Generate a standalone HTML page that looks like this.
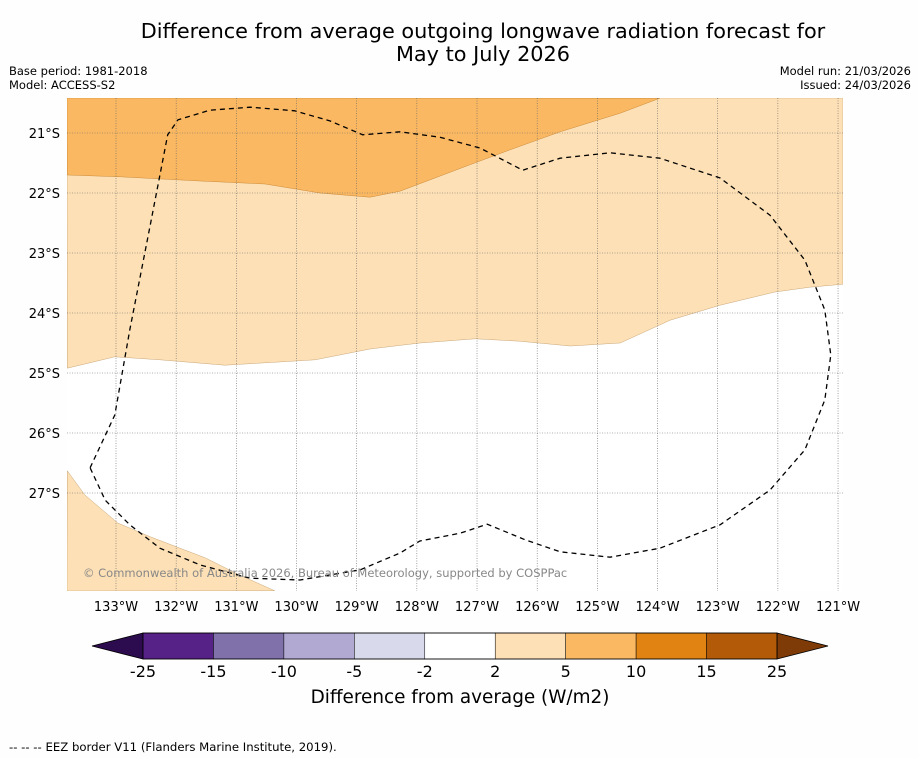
<!DOCTYPE html>
<html><head><meta charset="utf-8">
<style>
body{margin:0;background:#fff;font-family:"DejaVu Sans","Liberation Sans",sans-serif;}
#wrap{position:relative;width:919px;height:758px;overflow:hidden;background:#fefefe;}
svg text{font-family:"DejaVu Sans","Liberation Sans",sans-serif;}
</style></head>
<body>
<div id="wrap">
<svg id="svg" width="919" height="758" xmlns="http://www.w3.org/2000/svg">
<text x="483" y="38" text-anchor="middle" font-size="20.8" fill="#000">Difference from average outgoing longwave radiation forecast for</text>
<text x="483" y="61" text-anchor="middle" font-size="20.8" fill="#000">May to July 2026</text>
<text x="9" y="75" font-size="11.5">Base period: 1981-2018</text>
<text x="9" y="89" font-size="11.5">Model: ACCESS-S2</text>
<text x="911" y="75" font-size="11.5" text-anchor="end">Model run: 21/03/2026</text>
<text x="911" y="89" font-size="11.5" text-anchor="end">Issued: 24/03/2026</text>
<g id="map"></g>
<g id="cbar"></g>
<text x="460" y="703" text-anchor="middle" font-size="18.4">Difference from average (W/m2)</text>
<text x="9" y="751" font-size="11.7">--  --  -- EEZ border V11 (Flanders Marine Institute, 2019).</text>
</svg>
</div>
<script>
// map axes
const lonTicks=[133,132,131,130,129,128,127,126,125,124,123,122,121];
const latTicks=[21,22,23,24,25,26,27];
// contours (lon °W, lat °S)
const orangeEdgeLon=[133.81,132.93,131.60,130.52,129.61,128.78,128.28,127.12,126.45,125.62,124.62,123.96];
const orangeEdgeLat=[21.70,21.73,21.80,21.85,22.00,22.07,21.97,21.53,21.28,20.98,20.67,20.42];
const peachEdgeLon=[133.81,133.02,132.27,131.19,129.69,128.78,127.95,127.03,126.29,125.45,124.62,123.79,122.96,122.05,121.47,120.92];
const peachEdgeLat=[24.92,24.73,24.78,24.87,24.78,24.60,24.50,24.43,24.47,24.55,24.50,24.12,23.87,23.65,23.57,23.52];
const swPeachLon=[133.81,133.52,132.97,132.43,131.52,130.94,130.36];
const swPeachLat=[26.63,27.03,27.50,27.73,28.08,28.37,28.63];
const eezLon=[133.43,133.02,132.77,132.43,132.14,131.97,131.44,130.77,130.03,129.44,128.90,128.28,127.62,126.95,126.24,125.62,124.79,123.96,122.96,122.13,121.55,121.22,121.12,121.22,121.55,122.13,122.96,123.96,124.79,125.62,126.20,126.83,127.28,127.95,128.28,128.94,129.94,130.77,131.60,132.27,132.77,133.18];
const eezLat=[26.58,25.70,24.28,22.53,21.03,20.78,20.62,20.57,20.63,20.80,21.03,20.98,21.07,21.25,21.62,21.42,21.33,21.42,21.75,22.37,23.12,23.95,24.70,25.45,26.28,26.95,27.53,27.92,28.07,27.98,27.78,27.52,27.67,27.80,28.00,28.28,28.45,28.42,28.20,27.92,27.53,27.12];
// colorbar
const cbLabels=["-25","-15","-10","-5","-2","2","5","10","15","25"];
const cbColors=["#562288","#8071ab","#b1a9d2","#d8d9ea","#ffffff","#fde0b5","#fbb862","#e18313","#b35a08"];
const cbLow="#2d0b4f", cbHigh="#7e3b07";

const NS="http://www.w3.org/2000/svg";
const L=67,R=843,T=98,B=591;
const X=lon=>116+(133-lon)*60.17;
const Y=lat=>133+(lat-21)*60;
function mk(tag,attrs,parent){const e=document.createElementNS(NS,tag);for(const k in attrs)e.setAttribute(k,attrs[k]);parent.appendChild(e);return e;}
const map=document.getElementById('map');
const pts=(lo,la)=>lo.map((v,i)=>X(v).toFixed(1)+','+Y(la[i]).toFixed(1));
const defs=mk('defs',{},map);const cp=mk('clipPath',{id:'clip'},defs);mk('rect',{x:L,y:T,width:R-L,height:B-T},cp);
const g=mk('g',{'clip-path':'url(#clip)'},map);
let e=mk('rect',{x:L,y:T,width:R-L,height:B-T,fill:'#ffffff'},g);

let p=pts(peachEdgeLon,peachEdgeLat);
e=mk('polygon',{points:p.join(' ')+` ${R},${T} ${L},${T}`,fill:'#fde0b5',stroke:'#c9a77a','stroke-width':0.5},g);

p=pts(orangeEdgeLon,orangeEdgeLat);
e=mk('polygon',{points:p.join(' ')+` ${L},${T}`,fill:'#fbb862',stroke:'#c98a3a','stroke-width':0.5},g);

p=pts(swPeachLon,swPeachLat);
e=mk('polygon',{points:p.join(' ')+` ${L},${B}`,fill:'#fde0b5',stroke:'#c9a77a','stroke-width':0.5},g);

lonTicks.forEach(lon=>{const x=X(lon);
 e=mk('line',{x1:x,x2:x,y1:T,y2:B,stroke:'#666','stroke-width':0.6,'stroke-dasharray':'1,1.5'},g);
 
 e=mk('text',{x:x,y:611,'text-anchor':'middle','font-size':13},map);e.textContent=lon+'°W';
 });
latTicks.forEach(lat=>{const y=Y(lat);
 e=mk('line',{x1:L,x2:R,y1:y,y2:y,stroke:'#666','stroke-width':0.6,'stroke-dasharray':'1,1.5'},g);
 
 e=mk('text',{x:60,y:y+5,'text-anchor':'end','font-size':13},map);e.textContent=lat+'°S';
 });
p=pts(eezLon,eezLat);
e=mk('polygon',{points:p.join(' '),fill:'none',stroke:'#000','stroke-width':1.3,'stroke-dasharray':'5,4'},g);

e=mk('text',{x:83,y:577,'font-size':11.5,fill:'#888'},map);e.textContent='© Commonwealth of Australia 2026, Bureau of Meteorology, supported by COSPPac';

const cb=document.getElementById('cbar');
const cx0=143,cx1=777,cy0=633,cy1=659,w=(cx1-cx0)/cbColors.length;
e=mk('polygon',{points:`${cx0},${cy0} 92,${(cy0+cy1)/2} ${cx0},${cy1}`,fill:cbLow,stroke:'#000','stroke-width':0.8},cb);

e=mk('polygon',{points:`${cx1},${cy0} 828,${(cy0+cy1)/2} ${cx1},${cy1}`,fill:cbHigh,stroke:'#000','stroke-width':0.8},cb);

cbColors.forEach((c,i)=>{
 e=mk('rect',{x:cx0+i*w,y:cy0,width:w,height:cy1-cy0,fill:c,stroke:'#000','stroke-width':0.5},cb);
 });
mk('rect',{x:cx0,y:cy0,width:cx1-cx0,height:cy1-cy0,fill:'none',stroke:'#000','stroke-width':0.8},cb);
cbLabels.forEach((t,i)=>{
 e=mk('text',{x:cx0+i*w,y:677,'text-anchor':'middle','font-size':16},cb);e.textContent=t;
 });
</script>
</body></html>
